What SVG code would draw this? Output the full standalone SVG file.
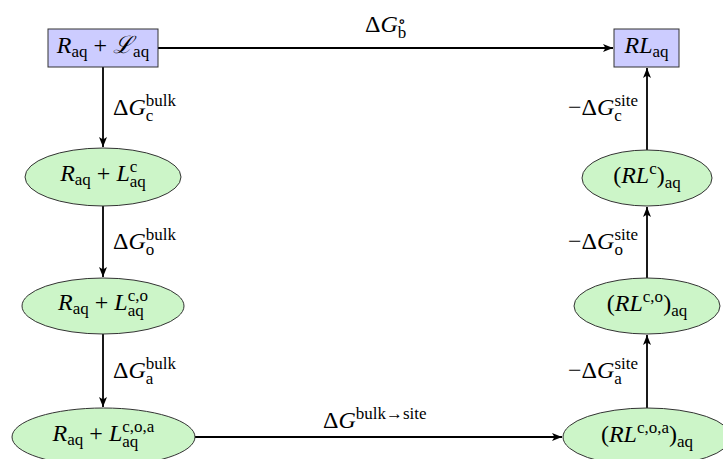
<svg xmlns="http://www.w3.org/2000/svg" width="723" height="459" viewBox="0 0 723 459">
<style>
.t{font-size:24px;fill:#000}
.i{font-style:italic}
.s{font-size:17px}
.box{fill:#ccccff;stroke:#333;stroke-width:1}
.ell{fill:#ccf5c8;stroke:#333;stroke-width:1}
.arr{stroke:#000;stroke-width:1.8;fill:none;marker-end:url(#ah)}
</style>
<defs>
<marker id="ah" viewBox="0 0 10 8" refX="10" refY="4" markerWidth="10" markerHeight="8" orient="auto" markerUnits="userSpaceOnUse"><path d="M0,0 L10,4 L0,8 L2.5,4 z" fill="#000"/></marker>
</defs>
<g font-family="'Liberation Serif', 'Times New Roman', 'DejaVu Serif', serif">
<g id="connectors">
<line class="arr" x1="158" y1="48" x2="613" y2="48"/>
<line class="arr" x1="103" y1="67" x2="103" y2="147"/>
<line class="arr" x1="103" y1="206" x2="103" y2="277"/>
<line class="arr" x1="103" y1="334" x2="103" y2="407"/>
<line class="arr" x1="195" y1="437" x2="562" y2="437"/>
<line class="arr" x1="647" y1="408" x2="647" y2="335"/>
<line class="arr" x1="647" y1="278" x2="647" y2="207"/>
<line class="arr" x1="647" y1="150" x2="647" y2="68"/>
<text class="t" x="365" y="32"><tspan>Δ</tspan><tspan class="i">G</tspan><tspan class="s" dy="6">b</tspan><tspan class="s" dx="-8.5" dy="-11">∘</tspan></text>
<text class="t" x="323" y="428"><tspan>Δ</tspan><tspan class="i">G</tspan><tspan class="s" dy="-9">bulk→site</tspan></text>
<text class="t" x="113" y="115"><tspan>Δ</tspan><tspan class="i">G</tspan><tspan class="s" dy="6">c</tspan><tspan class="s" dx="-7.5" dy="-15">bulk</tspan></text>
<text class="t" x="113" y="249"><tspan>Δ</tspan><tspan class="i">G</tspan><tspan class="s" dy="6">o</tspan><tspan class="s" dx="-8.5" dy="-15">bulk</tspan></text>
<text class="t" x="113" y="378"><tspan>Δ</tspan><tspan class="i">G</tspan><tspan class="s" dy="6">a</tspan><tspan class="s" dx="-7.5" dy="-15">bulk</tspan></text>
<text class="t" x="638" y="115" text-anchor="end"><tspan>−Δ</tspan><tspan class="i">G</tspan><tspan class="s" dy="6">c</tspan><tspan class="s" dx="-7.5" dy="-15">site</tspan></text>
<text class="t" x="638" y="249" text-anchor="end"><tspan>−Δ</tspan><tspan class="i">G</tspan><tspan class="s" dy="6">o</tspan><tspan class="s" dx="-8.5" dy="-15">site</tspan></text>
<text class="t" x="638" y="378" text-anchor="end"><tspan>−Δ</tspan><tspan class="i">G</tspan><tspan class="s" dy="6">a</tspan><tspan class="s" dx="-7.5" dy="-15">site</tspan></text>
</g>
<g id="n-start">
<rect class="box" x="48" y="29" width="110" height="38"/>
<text class="t" x="103" y="53" text-anchor="middle"><tspan class="i">R</tspan><tspan class="s" dy="4">aq</tspan><tspan dy="-4"> + </tspan><tspan class="i">ℒ</tspan><tspan class="s" dy="4">aq</tspan></text>
</g>
<g id="n-end">
<rect class="box" x="614" y="29" width="65" height="38"/>
<text class="t" x="646.5" y="53" text-anchor="middle"><tspan class="i">RL</tspan><tspan class="s" dy="4">aq</tspan></text>
</g>
<g id="n-l1">
<ellipse class="ell" cx="103" cy="177" rx="78" ry="29"/>
<text class="t" x="103" y="181" text-anchor="middle"><tspan class="i">R</tspan><tspan class="s" dy="4">aq</tspan><tspan dy="-4"> + </tspan><tspan class="i">L</tspan><tspan class="s" dy="-9">c</tspan><tspan class="s" dx="-7.5" dy="15">aq</tspan></text>
</g>
<g id="n-l2">
<ellipse class="ell" cx="103" cy="306" rx="81" ry="28"/>
<text class="t" x="103" y="310" text-anchor="middle"><tspan class="i">R</tspan><tspan class="s" dy="4">aq</tspan><tspan dy="-4"> + </tspan><tspan class="i">L</tspan><tspan class="s" dy="6">aq</tspan><tspan class="s" dx="-16" dy="-15">c,o</tspan></text>
</g>
<g id="n-l3">
<ellipse class="ell" cx="103.5" cy="437" rx="91.5" ry="29"/>
<text class="t" x="103.5" y="441" text-anchor="middle"><tspan class="i">R</tspan><tspan class="s" dy="4">aq</tspan><tspan dy="-4"> + </tspan><tspan class="i">L</tspan><tspan class="s" dy="6">aq</tspan><tspan class="s" dx="-16" dy="-15">c,o,a</tspan></text>
</g>
<g id="n-r1">
<ellipse class="ell" cx="647" cy="178" rx="65" ry="28"/>
<text class="t" x="647" y="183" text-anchor="middle"><tspan>(</tspan><tspan class="i">RL</tspan><tspan class="s" dy="-9">c</tspan><tspan dy="9">)</tspan><tspan class="s" dy="5">aq</tspan></text>
</g>
<g id="n-r2">
<ellipse class="ell" cx="647" cy="306" rx="73" ry="28"/>
<text class="t" x="647" y="311" text-anchor="middle"><tspan>(</tspan><tspan class="i">RL</tspan><tspan class="s" dy="-9">c,o</tspan><tspan dy="9">)</tspan><tspan class="s" dy="5">aq</tspan></text>
</g>
<g id="n-r3">
<ellipse class="ell" cx="647" cy="437" rx="84" ry="29"/>
<text class="t" x="647" y="442" text-anchor="middle"><tspan>(</tspan><tspan class="i">RL</tspan><tspan class="s" dy="-9">c,o,a</tspan><tspan dy="9">)</tspan><tspan class="s" dy="5">aq</tspan></text>
</g>
</g>
</svg>
